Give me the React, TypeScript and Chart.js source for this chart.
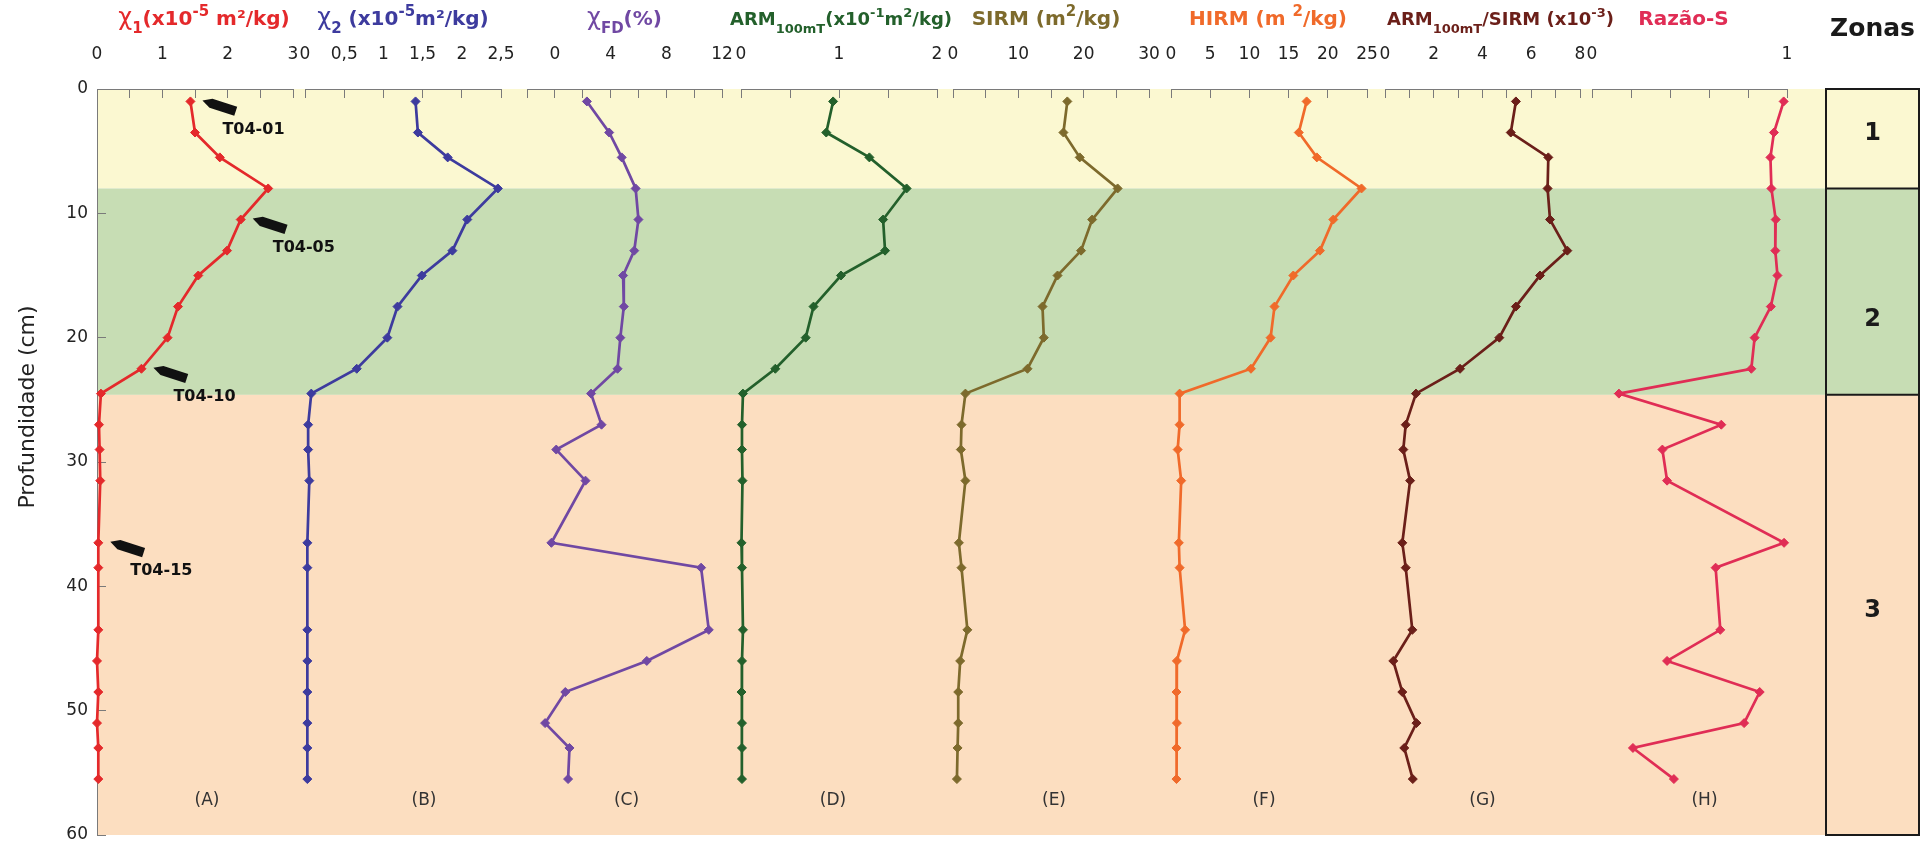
import React, { useEffect, useRef } from 'react';
import { Chart, registerables } from 'chart.js';

Chart.register(...registerables);

// Sample depths along the core (cm)
const depths = [1, 3.5, 5.5, 8, 10.5, 13, 15, 17.5, 20, 22.5, 24.5, 27, 29, 31.5, 36.5, 38.5, 43.5, 46, 48.5, 51, 53, 55.5];

// Magnetic parameters, one value per depth
const chi1 = [1.43, 1.5, 1.88, 2.62, 2.2, 1.99, 1.55, 1.24, 1.08, 0.68, 0.06, 0.03, 0.04, 0.05, 0.02, 0.02, 0.02, 0.0, 0.02, 0.0, 0.02, 0.02];
const chi2 = [1.41, 1.44, 1.82, 2.46, 2.07, 1.88, 1.49, 1.18, 1.05, 0.66, 0.08, 0.04, 0.04, 0.055, 0.03, 0.03, 0.03, 0.03, 0.03, 0.03, 0.03, 0.03];
const chiFD = [2.3, 3.9, 4.8, 5.8, 6.0, 5.7, 4.9, 4.95, 4.7, 4.5, 2.6, 3.35, 0.1, 2.2, -0.25, 10.5, 11.05, 6.6, 0.75, -0.7, 1.05, 0.95];
const arm100 = [0.94, 0.87, 1.31, 1.69, 1.45, 1.47, 1.02, 0.74, 0.66, 0.35, 0.02, 0.01, 0.01, 0.015, 0.005, 0.01, 0.02, 0.01, 0.005, 0.01, 0.01, 0.01];
const sirm = [17.5, 16.9, 19.4, 25.2, 21.3, 19.6, 16.0, 13.7, 13.9, 11.4, 1.9, 1.3, 1.2, 1.9, 0.9, 1.3, 2.2, 1.1, 0.8, 0.8, 0.7, 0.6];
const hirm = [17.3, 16.3, 18.6, 24.3, 20.7, 19.0, 15.6, 13.2, 12.7, 10.2, 1.1, 1.1, 0.85, 1.3, 1.0, 1.1, 1.8, 0.75, 0.7, 0.75, 0.7, 0.7];
const armSirm = [5.37, 5.16, 6.7, 6.67, 6.77, 7.48, 6.36, 5.37, 4.69, 3.08, 1.27, 0.85, 0.75, 1.03, 0.71, 0.85, 1.12, 0.34, 0.71, 1.29, 0.79, 1.14];
const sRatio = [0.983, 0.933, 0.915, 0.92, 0.942, 0.94, 0.951, 0.917, 0.834, 0.817, 0.138, 0.663, 0.361, 0.385, 0.985, 0.634, 0.658, 0.385, 0.86, 0.78, 0.21, 0.42];

// Axis ranges and labelled ticks per panel
const panelIds = ['xA', 'xB', 'xC', 'xD', 'xE', 'xF', 'xG', 'xH'];
const panelMin = [0, 0, -2, 0, 0, 0, 0, 0];
const panelMax = [3, 2.5, 12, 2, 30, 25, 8, 1];
const panelStep = [0.5, 0.5, 2, 0.5, 5, 5, 1, 0.2];
const panelTickLabels = [
  [0, 1, 2, 3],
  [0, 0.5, 1, 1.5, 2, 2.5],
  [0, 4, 8, 12],
  [0, 1, 2],
  [0, 10, 20, 30],
  [0, 5, 10, 15, 20, 25],
  [0, 2, 4, 6, 8],
  [0, 1],
];
const panelLetters = ['(A)', '(B)', '(C)', '(D)', '(E)', '(F)', '(G)', '(H)'];

// Zones
const zoneNames = ['1', '2', '3'];
const zoneTop = [0, 8, 24.6];
const zoneBottom = [8, 24.6, 60];
const zoneLabelDepth = [3.6, 18.6, 42];

// Labelled samples on the chi1 profile
const sampleTags = ['T04-01', 'T04-05', 'T04-10', 'T04-15'];
const sampleTagDepths = [1, 10.5, 22.5, 36.5];

// ---- styling / layout ----
const seriesColors = ['#E4292B', '#3D3B9E', '#7048A3', '#23602B', '#7D6A2C', '#F06A2A', '#6B1F19', '#E02D55'];
const zoneColors = ['#FBF8D1', '#C7DDB4', '#FCDEC0'];
const panelLeft = [0, 208, 430, 644, 856, 1074, 1288, 1495];
const panelWidth = [196, 196, 195, 196, 196, 196, 195, 195];
const titleShift = [9, 0, 0, 2, -5, -1, 18, -6];
const titleSize = [20, 20, 20, 18, 20, 20, 18, 20];
const letterShift = [12, 21, 2, -6, 3, -5, 0, 15];
const zonesLeft = 1729;
const FONT = '"DejaVu Sans", "Liberation Sans", Arial, sans-serif';

type Seg = { t: string; k?: 'sub' | 'sup' | 'g' };
const titles: Seg[][] = [
  [{ t: 'χ', k: 'g' }, { t: '1', k: 'sub' }, { t: '(x10' }, { t: '-5', k: 'sup' }, { t: ' m²/kg)' }],
  [{ t: 'χ', k: 'g' }, { t: '2', k: 'sub' }, { t: ' (x10' }, { t: '-5', k: 'sup' }, { t: 'm²/kg)' }],
  [{ t: 'χ', k: 'g' }, { t: 'FD', k: 'sub' }, { t: '(%)' }],
  [{ t: 'ARM' }, { t: '100mT', k: 'sub' }, { t: '(x10' }, { t: '-1', k: 'sup' }, { t: 'm' }, { t: '2', k: 'sup' }, { t: '/kg)' }],
  [{ t: 'SIRM (m' }, { t: '2', k: 'sup' }, { t: '/kg)' }],
  [{ t: 'HIRM (m ' }, { t: '2', k: 'sup' }, { t: '/kg)' }],
  [{ t: 'ARM' }, { t: '100mT', k: 'sub' }, { t: '/SIRM (x10' }, { t: '-3', k: 'sup' }, { t: ')' }],
  [{ t: 'Razão-S' }],
];

const series = [chi1, chi2, chiFD, arm100, sirm, hirm, armSirm, sRatio];

function drawRich(ctx: CanvasRenderingContext2D, segs: Seg[], cx: number, baseline: number, color: string, size: number) {
  const fontFor = (k?: string) =>
    k === 'sub' || k === 'sup'
      ? `bold ${Math.round(size * 0.74)}px ${FONT}`
      : k === 'g'
      ? `${Math.round(size * 1.2)}px ${FONT}`
      : `bold ${size}px ${FONT}`;
  let total = 0;
  const widths = segs.map((s) => {
    ctx.font = fontFor(s.k);
    const w = ctx.measureText(s.t).width;
    total += w;
    return w;
  });
  let x = cx - total / 2;
  ctx.fillStyle = color;
  ctx.textAlign = 'left';
  ctx.textBaseline = 'alphabetic';
  segs.forEach((s, i) => {
    ctx.font = fontFor(s.k);
    const dy = s.k === 'sub' ? size * 0.42 : s.k === 'sup' ? -size * 0.45 : 0;
    ctx.fillText(s.t, x, baseline + dy);
    x += widths[i];
  });
}

const decorPlugin = {
  id: 'profileDecor',
  afterLayout(chart: any) {
    const ca = chart.chartArea;
    panelIds.forEach((id, i) => {
      const s = chart.scales[id];
      s.left = ca.left + panelLeft[i];
      s.width = panelWidth[i];
      s.right = s.left + panelWidth[i];
      s.configure();
    });
  },
  beforeDraw(chart: any) {
    const { ctx, chartArea: ca } = chart;
    const y = chart.scales.y;
    ctx.save();
    zoneNames.forEach((_, i) => {
      const y0 = y.getPixelForValue(zoneTop[i]);
      const y1 = y.getPixelForValue(zoneBottom[i]);
      ctx.fillStyle = zoneColors[i];
      ctx.fillRect(ca.left, y0, ca.right - ca.left, y1 - y0);
    });
    ctx.restore();
  },
  afterDatasetsDraw(chart: any) {
    const { ctx } = chart;
    const xs = chart.scales.xA;
    const ys = chart.scales.y;
    ctx.save();
    sampleTags.forEach((label, i) => {
      const idx = depths.indexOf(sampleTagDepths[i]);
      const px = xs.getPixelForValue(chi1[idx]);
      const py = ys.getPixelForValue(depths[idx]);
      const tx = px + 12;
      const ty = py - 1;
      const len = Math.hypot(34, 11);
      const ux = 34 / len;
      const uy = 11 / len;
      const nx = -uy;
      const ny = ux;
      const h = 4.8;
      ctx.fillStyle = '#111';
      ctx.beginPath();
      ctx.moveTo(tx, ty);
      ctx.lineTo(tx + ux * 9 + nx * h, ty + uy * 9 + ny * h);
      ctx.lineTo(tx + ux * 35 + nx * h, ty + uy * 35 + ny * h);
      ctx.lineTo(tx + ux * 35 - nx * h, ty + uy * 35 - ny * h);
      ctx.lineTo(tx + ux * 9 - nx * h, ty + uy * 9 - ny * h);
      ctx.closePath();
      ctx.fill();
      ctx.font = `bold 16px ${FONT}`;
      ctx.textAlign = 'left';
      ctx.textBaseline = 'middle';
      ctx.fillText(label, px + 32, py + 28);
    });
    ctx.restore();
  },
  afterDraw(chart: any) {
    const { ctx, chartArea: ca } = chart;
    const ys = chart.scales.y;
    ctx.save();

    // panel titles
    panelIds.forEach((id, i) => {
      const s = chart.scales[id];
      drawRich(ctx, titles[i], (s.left + s.right) / 2 + titleShift[i], ca.top - 64, seriesColors[i], titleSize[i]);
    });

    // panel letters
    ctx.font = `17px ${FONT}`;
    ctx.fillStyle = '#333';
    ctx.textAlign = 'center';
    ctx.textBaseline = 'middle';
    panelIds.forEach((id, i) => {
      const s = chart.scales[id];
      ctx.fillText(panelLetters[i], (s.left + s.right) / 2 + letterShift[i], ys.getPixelForValue(57.2));
    });

    // zones column
    const zx = ca.left + zonesLeft;
    ctx.strokeStyle = '#1a1a1a';
    ctx.lineWidth = 2;
    ctx.strokeRect(zx, ca.top, ca.right - zx, ca.bottom - ca.top);
    ctx.fillStyle = '#1a1a1a';
    ctx.font = `bold 24px ${FONT}`;
    zoneNames.forEach((name, i) => {
      const y0 = ys.getPixelForValue(zoneTop[i]);
      if (i > 0) {
        ctx.beginPath();
        ctx.moveTo(zx, y0);
        ctx.lineTo(ca.right, y0);
        ctx.stroke();
      }
      ctx.fillText(name, (zx + ca.right) / 2, ys.getPixelForValue(zoneLabelDepth[i]));
    });
    ctx.font = `bold 25px ${FONT}`;
    ctx.textBaseline = 'alphabetic';
    ctx.fillText('Zonas', (zx + ca.right) / 2, ca.top - 53);

    // depth axis title
    ctx.translate(28, 407);
    ctx.rotate(-Math.PI / 2);
    ctx.font = `22px ${FONT}`;
    ctx.fillStyle = '#222';
    ctx.textBaseline = 'middle';
    ctx.fillText('Profundidade (cm)', 0, 0);
    ctx.restore();
  },
};

const fmt = (v: number) => String(Math.round(v * 1000) / 1000).replace('.', ',');

export default function App() {
  const ref = useRef<HTMLCanvasElement | null>(null);

  useEffect(() => {
    if (!ref.current) return;
    Chart.defaults.font.family = FONT;

    const scales: any = {
      y: {
        type: 'linear',
        position: 'left',
        reverse: true,
        min: 0,
        max: 60,
        afterFit: (s: any) => {
          s.width = 97;
          s.paddingTop = 0;
          s.paddingBottom = 0;
        },
        ticks: { stepSize: 10, padding: 18, color: '#222', font: { family: FONT, size: 17 } },
        grid: { drawOnChartArea: false, tickLength: -9, color: '#7a7a7a' },
        border: { color: '#7a7a7a', width: 1 },
      },
    };
    panelIds.forEach((id, i) => {
      const labelled = panelTickLabels[i];
      scales[id] = {
        type: 'linear',
        position: 'top',
        stack: 'panels',
        stackWeight: 1,
        min: panelMin[i],
        max: panelMax[i],
        afterFit: (s: any) => {
          s.height = 89;
          s.paddingLeft = 0;
          s.paddingRight = 0;
        },
        ticks: {
          stepSize: panelStep[i],
          autoSkip: false,
          maxRotation: 0,
          minRotation: 0,
          padding: 33,
          color: '#222',
          font: { family: FONT, size: 17 },
          callback: (v: number) => (labelled.some((l) => Math.abs(l - v) < 1e-6) ? fmt(v) : ''),
        },
        grid: { drawOnChartArea: false, tickLength: -9, color: '#7a7a7a' },
        border: { color: '#7a7a7a', width: 1 },
      };
    });

    const chart = new Chart(ref.current, {
      type: 'scatter',
      data: {
        datasets: series.map((vals, i) => ({
          data: vals.map((v, j) => ({ x: v, y: depths[j] })),
          xAxisID: panelIds[i],
          yAxisID: 'y',
          showLine: true,
          borderColor: seriesColors[i],
          backgroundColor: seriesColors[i],
          borderWidth: 2.7,
          pointStyle: 'rectRot',
          pointRadius: 4.5,
          pointBorderWidth: 1,
          clip: false,
        })),
      },
      options: {
        animation: false,
        responsive: false,
        maintainAspectRatio: false,
        devicePixelRatio: 1,
        events: [],
        layout: { padding: { left: 0, top: 0, right: 9, bottom: 13 } },
        plugins: { legend: { display: false }, tooltip: { enabled: false }, title: { display: false } },
        scales,
      },
      plugins: [decorPlugin],
    } as any);

    return () => chart.destroy();
  }, []);

  return (
    <div style={{ position: 'fixed', left: 0, top: 0, width: 1928, height: 848, background: '#fff' }}>
      <canvas ref={ref} width={1928} height={848} style={{ display: 'block', width: 1928, height: 848 }} />
    </div>
  );
}
